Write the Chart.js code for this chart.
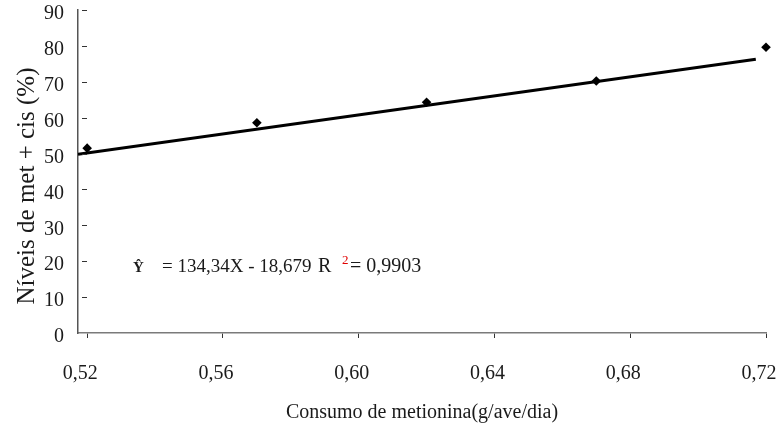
<!DOCTYPE html>
<html>
<head>
<meta charset="utf-8">
<script src="https://cdn.jsdelivr.net/npm/chart.js@4/dist/chart.umd.min.js"></script>
<style>
  body { margin: 0; background: #fff; }
  #wrap { width: 778px; height: 425px; }
</style>
</head>
<body>
<div id="wrap"><canvas id="chart" width="778" height="425"></canvas></div>
<script>
// observed values
const consumo = [0.52, 0.57, 0.62, 0.67, 0.72];
const niveis = [51.5, 58.6, 64.3, 70.2, 79.6];

// fitted line as drawn in the figure (ends)
const trendX = [0.5173, 0.717];
const trendY = [49.8, 76.3];

const xTicks = [0.52, 0.56, 0.60, 0.64, 0.68, 0.72];
const yTicks = [0, 10, 20, 30, 40, 50, 60, 70, 80, 90];

const serif = "'Liberation Serif', 'DejaVu Serif', serif";
const textColor = "#1a1a1a";

// inner y dashes, y title (sits a bit lower than centre) and the equation
const extras = {
  id: "extras",
  afterDraw(chart) {
    const ctx = chart.ctx;
    const y = chart.scales.y;
    const area = chart.chartArea;
    ctx.save();
    ctx.strokeStyle = "#333";
    ctx.lineWidth = 1;
    yTicks.forEach((v) => {
      if (v === 0) return;
      const py = Math.round(y.getPixelForValue(v)) + 0.5;
      ctx.beginPath();
      ctx.moveTo(area.left + 4, py);
      ctx.lineTo(area.left + 9, py);
      ctx.stroke();
    });

    // y axis title
    ctx.save();
    ctx.translate(27, area.top + 176);
    ctx.rotate(-Math.PI / 2);
    ctx.fillStyle = textColor;
    ctx.font = "25px " + serif;
    ctx.textAlign = "center";
    ctx.textBaseline = "middle";
    ctx.fillText("Níveis de met + cis (%)", 0, 0);
    ctx.restore();

    // regression equation
    const base = area.top + 262;
    const x0 = area.left;
    ctx.fillStyle = textColor;
    ctx.textBaseline = "alphabetic";
    ctx.font = "bold 15px " + serif;
    ctx.fillText("Ŷ", x0 + 55, base);
    ctx.font = "19px " + serif;
    ctx.fillText("= 134,34X - 18,679", x0 + 84, base);
    ctx.font = "20px " + serif;
    ctx.fillText("R", x0 + 240, base);
    ctx.fillStyle = "#e00000";
    ctx.font = "13px " + serif;
    ctx.fillText("2", x0 + 264, base - 8);
    ctx.fillStyle = textColor;
    ctx.font = "20px " + serif;
    ctx.fillText("= 0,9903", x0 + 272, base);
    ctx.restore();
  },
};

new Chart(document.getElementById("chart").getContext("2d"), {
  type: "scatter",
  data: {
    datasets: [
      {
        label: "Níveis",
        data: consumo.map((c, i) => ({ x: c, y: niveis[i] })),
        pointStyle: "rectRot",
        pointRadius: 4.8,
        backgroundColor: "#000",
        borderColor: "#000",
        borderWidth: 0,
        clip: false,
        order: 1,
      },
      {
        type: "line",
        label: "Ajuste",
        data: trendX.map((c, i) => ({ x: c, y: trendY[i] })),
        borderColor: "#000",
        borderWidth: 3,
        pointRadius: 0,
        fill: false,
        order: 2,
      },
    ],
  },
  options: {
    responsive: false,
    animation: false,
    layout: { padding: { top: 10, right: 12, left: 0, bottom: 0 } },
    plugins: {
      legend: { display: false },
      tooltip: { enabled: false },
    },
    scales: {
      x: {
        type: "linear",
        min: 0.5173,
        max: 0.72,
        afterBuildTicks: (scale) => {
          scale.ticks = xTicks.map((v) => ({ value: v }));
        },
        afterFit: (scale) => {
          scale.height = 92;
          scale.paddingLeft = 0;
          scale.paddingRight = 0;
        },
        grid: {
          drawOnChartArea: false,
          drawTicks: true,
          tickLength: 5,
          color: "#333",
        },
        border: { color: "#7a7a7a", width: 1.5 },
        ticks: {
          padding: 24,
          labelOffset: -7,
          color: textColor,
          font: { family: serif, size: 20 },
          callback: (v) => Number(v).toFixed(2).replace(".", ","),
        },
        title: {
          display: true,
          text: "Consumo de metionina(g/ave/dia)",
          color: textColor,
          font: { family: serif, size: 20 },
          padding: { top: 0, bottom: 0 },
        },
      },
      y: {
        min: 0,
        max: 90,
        afterBuildTicks: (scale) => {
          scale.ticks = yTicks.map((v) => ({ value: v }));
        },
        afterFit: (scale) => {
          scale.width = 78;
          scale.paddingTop = 0;
          scale.paddingBottom = 0;
        },
        grid: { display: false, drawTicks: false },
        border: { color: "#555", width: 1.5 },
        ticks: {
          padding: 14,
          labelOffset: 4,
          color: textColor,
          font: { family: serif, size: 20 },
        },
      },
    },
  },
  plugins: [extras],
});
</script>
</body>
</html>
